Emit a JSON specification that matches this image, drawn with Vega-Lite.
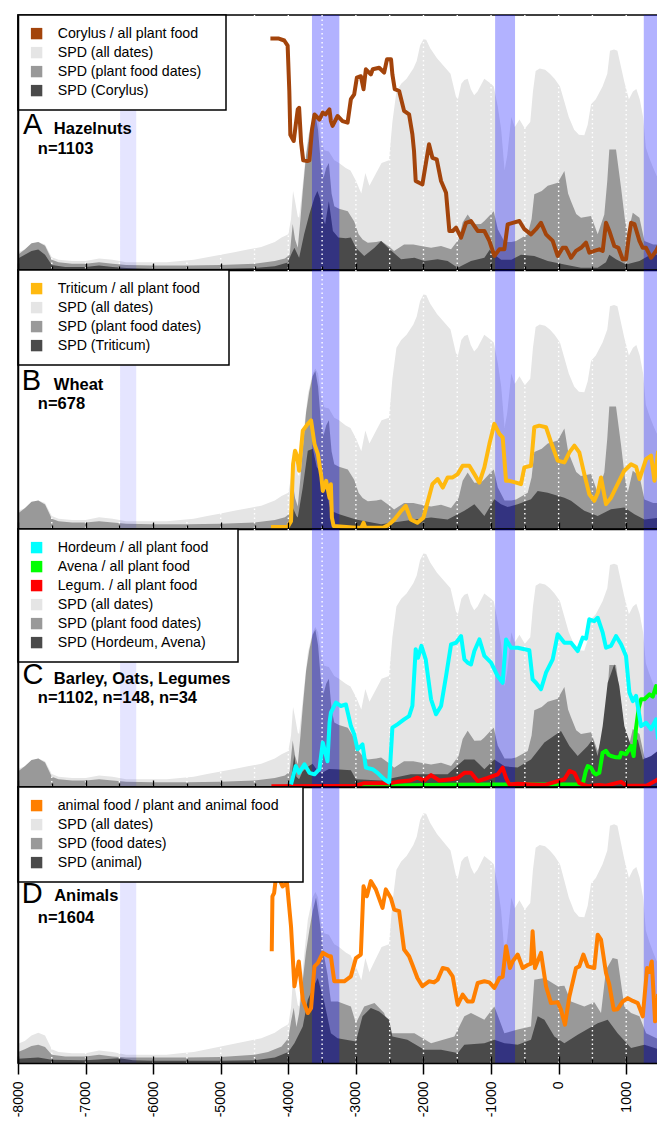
{
"$schema":"https://vega.github.io/schema/vega-lite/v6.json",
"background":"white",
"padding":{"left":10,"top":13,"right":0,"bottom":0},
"spacing":0,
"bounds":"flush",
"config":{"view":{"stroke":"black","strokeWidth":1.5},"font":"Liberation Sans","legend":{"strokeWidth":1.5}},
"resolve":{"scale":{"color":"independent"},"legend":{"color":"independent"}},
"datasets":{
"all":[{"x":-8000,"y":7},{"x":-7900,"y":8},{"x":-7800,"y":10},{"x":-7700,"y":11},{"x":-7600,"y":10},{"x":-7500,"y":5},{"x":-7400,"y":4},{"x":-7200,"y":3.5},{"x":-7000,"y":3.5},{"x":-6800,"y":4.5},{"x":-6600,"y":4},{"x":-6400,"y":3},{"x":-6200,"y":3},{"x":-6000,"y":3},{"x":-5800,"y":3},{"x":-5600,"y":3.5},{"x":-5400,"y":4},{"x":-5200,"y":5},{"x":-5000,"y":6},{"x":-4800,"y":7},{"x":-4600,"y":8},{"x":-4400,"y":9},{"x":-4200,"y":11},{"x":-4100,"y":12.7},{"x":-4000,"y":14},{"x":-3960,"y":20},{"x":-3930,"y":31},{"x":-3900,"y":27},{"x":-3860,"y":21},{"x":-3840,"y":20.5},{"x":-3800,"y":30},{"x":-3766,"y":39},{"x":-3711,"y":52},{"x":-3640,"y":60},{"x":-3600,"y":62},{"x":-3560,"y":60},{"x":-3520,"y":52},{"x":-3470,"y":47},{"x":-3400,"y":46.5},{"x":-3320,"y":43},{"x":-3250,"y":42},{"x":-3150,"y":40},{"x":-3080,"y":39},{"x":-3000,"y":35},{"x":-2920,"y":30},{"x":-2860,"y":38},{"x":-2800,"y":33},{"x":-2700,"y":38},{"x":-2620,"y":42},{"x":-2510,"y":43},{"x":-2460,"y":58},{"x":-2400,"y":70},{"x":-2330,"y":73},{"x":-2250,"y":75},{"x":-2150,"y":79},{"x":-2100,"y":82},{"x":-2050,"y":88},{"x":-2000,"y":90.5},{"x":-1960,"y":90.3},{"x":-1900,"y":87},{"x":-1800,"y":83},{"x":-1700,"y":80},{"x":-1600,"y":77},{"x":-1520,"y":68},{"x":-1490,"y":67},{"x":-1440,"y":73},{"x":-1395,"y":74.5},{"x":-1346,"y":75},{"x":-1300,"y":71},{"x":-1250,"y":68.5},{"x":-1200,"y":70},{"x":-1100,"y":75},{"x":-1000,"y":73},{"x":-960,"y":72},{"x":-900,"y":64},{"x":-850,"y":55},{"x":-800,"y":39},{"x":-760,"y":45},{"x":-700,"y":60},{"x":-650,"y":56},{"x":-580,"y":59},{"x":-500,"y":55.5},{"x":-420,"y":58},{"x":-380,"y":70},{"x":-340,"y":78},{"x":-280,"y":79},{"x":-200,"y":78.5},{"x":-130,"y":77},{"x":-60,"y":75},{"x":20,"y":72},{"x":85,"y":66},{"x":150,"y":60},{"x":230,"y":55},{"x":300,"y":53},{"x":380,"y":52.8},{"x":430,"y":57},{"x":480,"y":65},{"x":550,"y":67},{"x":650,"y":72},{"x":720,"y":77},{"x":760,"y":86},{"x":820,"y":86.5},{"x":870,"y":86},{"x":920,"y":80},{"x":970,"y":74},{"x":1040,"y":67},{"x":1100,"y":70},{"x":1150,"y":71},{"x":1200,"y":67},{"x":1250,"y":60},{"x":1290,"y":48},{"x":1340,"y":44},{"x":1400,"y":40},{"x":1450,"y":37},{"x":1500,"y":35}],
"plant":[{"x":-8000,"y":6},{"x":-7900,"y":8},{"x":-7800,"y":10.5},{"x":-7700,"y":11},{"x":-7600,"y":9.5},{"x":-7500,"y":4},{"x":-7400,"y":3},{"x":-7200,"y":2.5},{"x":-7000,"y":2.5},{"x":-6800,"y":3},{"x":-6600,"y":2.5},{"x":-6400,"y":2},{"x":-6000,"y":1.8},{"x":-5500,"y":1.8},{"x":-5000,"y":2},{"x":-4500,"y":2.5},{"x":-4200,"y":3.5},{"x":-4050,"y":4.5},{"x":-3980,"y":6},{"x":-3935,"y":18},{"x":-3900,"y":12},{"x":-3860,"y":8.7},{"x":-3820,"y":20},{"x":-3786,"y":31},{"x":-3737,"y":45},{"x":-3690,"y":53},{"x":-3640,"y":59},{"x":-3600,"y":61},{"x":-3560,"y":55},{"x":-3520,"y":42},{"x":-3480,"y":36},{"x":-3440,"y":40},{"x":-3400,"y":42},{"x":-3360,"y":30},{"x":-3320,"y":25},{"x":-3250,"y":24},{"x":-3120,"y":23},{"x":-3025,"y":19},{"x":-2960,"y":14},{"x":-2900,"y":12},{"x":-2824,"y":10.7},{"x":-2700,"y":11},{"x":-2627,"y":11.4},{"x":-2500,"y":9},{"x":-2435,"y":7.5},{"x":-2287,"y":10},{"x":-2150,"y":10},{"x":-2036,"y":9.4},{"x":-1888,"y":8.7},{"x":-1740,"y":9.4},{"x":-1592,"y":8.1},{"x":-1480,"y":12},{"x":-1420,"y":18.6},{"x":-1346,"y":21.8},{"x":-1247,"y":17.9},{"x":-1150,"y":18},{"x":-1099,"y":19.2},{"x":-1000,"y":22},{"x":-960,"y":23},{"x":-900,"y":16},{"x":-800,"y":11},{"x":-700,"y":11},{"x":-630,"y":11.4},{"x":-457,"y":14},{"x":-400,"y":20},{"x":-360,"y":29.7},{"x":-250,"y":31},{"x":-161,"y":33},{"x":-13,"y":34.2},{"x":85,"y":38.8},{"x":140,"y":30},{"x":183,"y":27},{"x":260,"y":22},{"x":331,"y":20.5},{"x":479,"y":21.2},{"x":578,"y":14},{"x":676,"y":21.8},{"x":720,"y":35},{"x":750,"y":47.3},{"x":849,"y":47.3},{"x":924,"y":32.3},{"x":980,"y":20},{"x":1023,"y":14},{"x":1097,"y":22.5},{"x":1196,"y":20.5},{"x":1270,"y":11.4},{"x":1400,"y":10},{"x":1500,"y":10}],
"food":[{"x":-8000,"y":4},{"x":-7900,"y":5},{"x":-7800,"y":6.2},{"x":-7700,"y":6.6},{"x":-7600,"y":5.8},{"x":-7500,"y":3},{"x":-7300,"y":2.4},{"x":-7000,"y":2.4},{"x":-6800,"y":3},{"x":-6600,"y":2.4},{"x":-6400,"y":2},{"x":-6000,"y":2},{"x":-5500,"y":2},{"x":-5000,"y":2.2},{"x":-4500,"y":3},{"x":-4300,"y":4},{"x":-4100,"y":6},{"x":-4000,"y":9},{"x":-3960,"y":15},{"x":-3920,"y":20},{"x":-3880,"y":13},{"x":-3840,"y":18},{"x":-3786,"y":30},{"x":-3740,"y":40},{"x":-3690,"y":48},{"x":-3640,"y":55},{"x":-3590,"y":60},{"x":-3540,"y":52},{"x":-3480,"y":40},{"x":-3420,"y":32},{"x":-3370,"y":22.3},{"x":-3271,"y":22.3},{"x":-3074,"y":20.5},{"x":-3000,"y":14.4},{"x":-2877,"y":20.5},{"x":-2725,"y":21.7},{"x":-2582,"y":18.1},{"x":-2483,"y":10.8},{"x":-2134,"y":10.8},{"x":-1888,"y":7.2},{"x":-1543,"y":9.6},{"x":-1395,"y":16.9},{"x":-1297,"y":18.1},{"x":-1099,"y":15.7},{"x":-951,"y":20.5},{"x":-803,"y":10.8},{"x":-606,"y":12.1},{"x":-409,"y":13.2},{"x":-360,"y":30.2},{"x":-211,"y":30.8},{"x":-14,"y":27.8},{"x":85,"y":28},{"x":183,"y":22.3},{"x":380,"y":20.5},{"x":528,"y":22},{"x":627,"y":18.1},{"x":701,"y":33.8},{"x":800,"y":38},{"x":873,"y":37.6},{"x":972,"y":20.5},{"x":1072,"y":18.1},{"x":1196,"y":16.9},{"x":1294,"y":10.8},{"x":1500,"y":8.4}],
"cory":[{"x":-8000,"y":4.5},{"x":-7900,"y":6},{"x":-7800,"y":7.5},{"x":-7700,"y":8},{"x":-7600,"y":6},{"x":-7500,"y":2},{"x":-7300,"y":1.2},{"x":-7000,"y":1.2},{"x":-6800,"y":1.8},{"x":-6600,"y":1.2},{"x":-6400,"y":0.8},{"x":-6000,"y":0.5},{"x":-5000,"y":0.5},{"x":-4500,"y":0.8},{"x":-4200,"y":1.5},{"x":-4008,"y":2.9},{"x":-3960,"y":6},{"x":-3910,"y":8.7},{"x":-3840,"y":4.8},{"x":-3766,"y":14},{"x":-3690,"y":21.8},{"x":-3613,"y":28.4},{"x":-3570,"y":31},{"x":-3530,"y":28},{"x":-3490,"y":20.5},{"x":-3455,"y":17.9},{"x":-3400,"y":27},{"x":-3340,"y":15.3},{"x":-3260,"y":12.7},{"x":-3150,"y":12.5},{"x":-3074,"y":12.7},{"x":-3000,"y":8.7},{"x":-2877,"y":5.5},{"x":-2725,"y":8.7},{"x":-2627,"y":11.4},{"x":-2500,"y":8.1},{"x":-2331,"y":4.2},{"x":-2134,"y":4.8},{"x":-1987,"y":3.5},{"x":-1790,"y":4.2},{"x":-1642,"y":3.5},{"x":-1494,"y":0.9},{"x":-1297,"y":3.5},{"x":-1099,"y":4.8},{"x":-1000,"y":8.7},{"x":-950,"y":6},{"x":-850,"y":4},{"x":-700,"y":4},{"x":-557,"y":6},{"x":-360,"y":5.5},{"x":-161,"y":3.5},{"x":85,"y":2.2},{"x":331,"y":0.9},{"x":578,"y":0.9},{"x":700,"y":3},{"x":750,"y":6},{"x":849,"y":4.2},{"x":997,"y":2.2},{"x":1196,"y":3.5},{"x":1358,"y":6},{"x":1500,"y":6}],
"trit":[{"x":-4000,"y":0},{"x":-3990,"y":0.5},{"x":-3934,"y":8.3},{"x":-3880,"y":5},{"x":-3860,"y":4.4},{"x":-3786,"y":16},{"x":-3712,"y":30.2},{"x":-3637,"y":31},{"x":-3580,"y":24},{"x":-3530,"y":22},{"x":-3480,"y":15},{"x":-3440,"y":18},{"x":-3400,"y":10},{"x":-3370,"y":7},{"x":-3247,"y":5.7},{"x":-3000,"y":3.7},{"x":-2627,"y":1.8},{"x":-2134,"y":3.7},{"x":-1888,"y":4.4},{"x":-1642,"y":3.7},{"x":-1395,"y":7},{"x":-1247,"y":9.6},{"x":-1099,"y":5},{"x":-951,"y":11.5},{"x":-852,"y":9.6},{"x":-754,"y":8.5},{"x":-606,"y":9.6},{"x":-409,"y":11.5},{"x":-310,"y":14.7},{"x":-161,"y":14},{"x":85,"y":12.1},{"x":183,"y":10.9},{"x":380,"y":7},{"x":578,"y":5},{"x":775,"y":7.6},{"x":972,"y":8.3},{"x":1122,"y":5.7},{"x":1270,"y":3.7},{"x":1500,"y":4.4}],
"hord":[{"x":-4000,"y":0},{"x":-3960,"y":3},{"x":-3910,"y":12.5},{"x":-3880,"y":4},{"x":-3840,"y":3},{"x":-3790,"y":6},{"x":-3700,"y":8},{"x":-3640,"y":9},{"x":-3560,"y":6},{"x":-3500,"y":5.5},{"x":-3400,"y":7},{"x":-3300,"y":6.9},{"x":-3074,"y":6.5},{"x":-3000,"y":3},{"x":-2627,"y":2.5},{"x":-2188,"y":4.9},{"x":-1888,"y":4.9},{"x":-1642,"y":4.9},{"x":-1395,"y":10.7},{"x":-1247,"y":10.7},{"x":-1099,"y":6.9},{"x":-951,"y":10.7},{"x":-800,"y":8},{"x":-606,"y":7.6},{"x":-409,"y":10.7},{"x":-211,"y":17.2},{"x":35,"y":21.7},{"x":159,"y":15.9},{"x":282,"y":12},{"x":430,"y":15.9},{"x":504,"y":18.5},{"x":578,"y":12},{"x":652,"y":23.6},{"x":726,"y":40.4},{"x":824,"y":47.6},{"x":898,"y":39.1},{"x":972,"y":23.6},{"x":1072,"y":15.9},{"x":1171,"y":18.5},{"x":1245,"y":10.7},{"x":1368,"y":12},{"x":1500,"y":14.6}],
"anim":[{"x":-8000,"y":1.5},{"x":-7700,"y":2},{"x":-7500,"y":1.2},{"x":-7000,"y":1},{"x":-6500,"y":1.7},{"x":-6300,"y":1},{"x":-6000,"y":0.8},{"x":-5000,"y":0.8},{"x":-4500,"y":1},{"x":-4200,"y":2},{"x":-4000,"y":4},{"x":-3910,"y":7.2},{"x":-3786,"y":13.2},{"x":-3712,"y":22.9},{"x":-3620,"y":28},{"x":-3564,"y":30.8},{"x":-3465,"y":21.7},{"x":-3370,"y":10.8},{"x":-3271,"y":9},{"x":-3000,"y":7.8},{"x":-2902,"y":16.9},{"x":-2779,"y":19.9},{"x":-2655,"y":18.7},{"x":-2508,"y":15.7},{"x":-2460,"y":9.6},{"x":-2238,"y":8.4},{"x":-1987,"y":4.8},{"x":-1740,"y":4.8},{"x":-1494,"y":3.6},{"x":-1395,"y":6.6},{"x":-1099,"y":7.2},{"x":-951,"y":8.4},{"x":-800,"y":7.2},{"x":-606,"y":6.6},{"x":-409,"y":8.4},{"x":-310,"y":16.9},{"x":-211,"y":15.7},{"x":-63,"y":9.6},{"x":85,"y":7.2},{"x":282,"y":10.2},{"x":578,"y":14.4},{"x":726,"y":15.7},{"x":873,"y":10.8},{"x":1072,"y":5.4},{"x":1270,"y":6.6},{"x":1500,"y":4.8}],
"lCory":[{"x":-4265,"y":90.8},{"x":-4150,"y":90.8},{"x":-4060,"y":90},{"x":-4010,"y":88},{"x":-3985,"y":70},{"x":-3970,"y":53},{"x":-3920,"y":50.6},{"x":-3890,"y":57},{"x":-3860,"y":63},{"x":-3840,"y":63.6},{"x":-3811,"y":50},{"x":-3780,"y":43},{"x":-3720,"y":42.7},{"x":-3688,"y":43},{"x":-3650,"y":55},{"x":-3613,"y":61},{"x":-3590,"y":60.4},{"x":-3540,"y":59},{"x":-3490,"y":61.7},{"x":-3450,"y":61},{"x":-3392,"y":63},{"x":-3370,"y":58.4},{"x":-3345,"y":56.5},{"x":-3271,"y":60.4},{"x":-3198,"y":58.4},{"x":-3123,"y":57.8},{"x":-3074,"y":67},{"x":-3025,"y":68.9},{"x":-2986,"y":75.4},{"x":-2927,"y":76},{"x":-2887,"y":70.9},{"x":-2852,"y":78.7},{"x":-2779,"y":76.7},{"x":-2750,"y":78.7},{"x":-2655,"y":79.3},{"x":-2582,"y":77.4},{"x":-2540,"y":82.6},{"x":-2480,"y":82.6},{"x":-2460,"y":76.7},{"x":-2425,"y":70.9},{"x":-2360,"y":70.2},{"x":-2287,"y":62.4},{"x":-2213,"y":61},{"x":-2164,"y":53.2},{"x":-2140,"y":46.7},{"x":-2115,"y":34.9},{"x":-2065,"y":34.2},{"x":-2016,"y":33.6},{"x":-1967,"y":41.4},{"x":-1918,"y":49.3},{"x":-1868,"y":44},{"x":-1804,"y":43.4},{"x":-1740,"y":34.9},{"x":-1666,"y":30.3},{"x":-1617,"y":15.3},{"x":-1568,"y":15.3},{"x":-1518,"y":16.6},{"x":-1444,"y":12.7},{"x":-1371,"y":18.5},{"x":-1297,"y":19.2},{"x":-1198,"y":15.3},{"x":-1099,"y":15.3},{"x":-1025,"y":11.4},{"x":-951,"y":5.5},{"x":-877,"y":8.1},{"x":-803,"y":8.1},{"x":-754,"y":17.9},{"x":-680,"y":18.5},{"x":-581,"y":19.2},{"x":-507,"y":16},{"x":-409,"y":14},{"x":-335,"y":16},{"x":-261,"y":18.5},{"x":-187,"y":14},{"x":-88,"y":11.4},{"x":-14,"y":5.5},{"x":60,"y":8.7},{"x":109,"y":8.7},{"x":183,"y":4.8},{"x":257,"y":7.5},{"x":331,"y":8.7},{"x":405,"y":10.7},{"x":454,"y":6.8},{"x":528,"y":7.5},{"x":602,"y":8.1},{"x":652,"y":7.5},{"x":701,"y":18.5},{"x":750,"y":15.3},{"x":824,"y":9.4},{"x":884,"y":8.7},{"x":948,"y":4.2},{"x":997,"y":4.2},{"x":1037,"y":12.7},{"x":1072,"y":18.5},{"x":1122,"y":18},{"x":1196,"y":11.4},{"x":1245,"y":8.7},{"x":1294,"y":8.7},{"x":1368,"y":4.8},{"x":1442,"y":7.5},{"x":1480,"y":9.4}],
"lTrit":[{"x":-4257,"y":0.8},{"x":-4010,"y":0.8},{"x":-3960,"y":3},{"x":-3930,"y":25},{"x":-3900,"y":30.2},{"x":-3870,"y":28},{"x":-3840,"y":22.5},{"x":-3786,"y":38},{"x":-3712,"y":40.6},{"x":-3663,"y":41.9},{"x":-3613,"y":32.8},{"x":-3563,"y":29},{"x":-3510,"y":20},{"x":-3490,"y":14.7},{"x":-3440,"y":18.6},{"x":-3390,"y":12},{"x":-3370,"y":17.3},{"x":-3355,"y":4.4},{"x":-3330,"y":1.2},{"x":-3000,"y":0.5},{"x":-2920,"y":0.5},{"x":-2887,"y":2.4},{"x":-2860,"y":0.5},{"x":-2600,"y":0.5},{"x":-2520,"y":1.5},{"x":-2430,"y":3.7},{"x":-2330,"y":7},{"x":-2262,"y":8.9},{"x":-2188,"y":3.7},{"x":-2090,"y":2.4},{"x":-2000,"y":4.4},{"x":-1947,"y":9.6},{"x":-1868,"y":17.3},{"x":-1790,"y":19.3},{"x":-1715,"y":16},{"x":-1642,"y":19.9},{"x":-1568,"y":19.9},{"x":-1494,"y":21.2},{"x":-1420,"y":24.4},{"x":-1322,"y":24.4},{"x":-1247,"y":21.2},{"x":-1173,"y":17.9},{"x":-1099,"y":23.8},{"x":-1025,"y":32.8},{"x":-951,"y":40.6},{"x":-877,"y":36.7},{"x":-828,"y":35.4},{"x":-778,"y":18.6},{"x":-730,"y":18.6},{"x":-630,"y":17.9},{"x":-557,"y":17.3},{"x":-507,"y":23.8},{"x":-409,"y":24.4},{"x":-360,"y":39.3},{"x":-286,"y":39.9},{"x":-187,"y":39.3},{"x":-113,"y":33.5},{"x":-14,"y":26.4},{"x":85,"y":25.7},{"x":159,"y":29.6},{"x":233,"y":32.2},{"x":306,"y":29.6},{"x":380,"y":21.2},{"x":454,"y":13.4},{"x":528,"y":10.9},{"x":580,"y":14},{"x":627,"y":19.9},{"x":701,"y":9.6},{"x":775,"y":12.1},{"x":873,"y":17.3},{"x":972,"y":22.5},{"x":1072,"y":25},{"x":1146,"y":24},{"x":1196,"y":19.3},{"x":1294,"y":27},{"x":1368,"y":28.3},{"x":1418,"y":18.6},{"x":1472,"y":30.2}],
"lHord":[{"x":-3960,"y":1},{"x":-3890,"y":8.1},{"x":-3840,"y":5.5},{"x":-3762,"y":8.8},{"x":-3688,"y":5.5},{"x":-3613,"y":4.9},{"x":-3540,"y":6.9},{"x":-3490,"y":17.2},{"x":-3440,"y":12},{"x":-3420,"y":10},{"x":-3390,"y":25},{"x":-3370,"y":28.8},{"x":-3296,"y":32.7},{"x":-3222,"y":31.4},{"x":-3148,"y":32},{"x":-3074,"y":23.6},{"x":-3025,"y":20.4},{"x":-2976,"y":14.6},{"x":-2902,"y":16.5},{"x":-2852,"y":7.5},{"x":-2754,"y":6.9},{"x":-2680,"y":5.5},{"x":-2582,"y":3},{"x":-2508,"y":1.7},{"x":-2460,"y":23},{"x":-2385,"y":24.3},{"x":-2287,"y":26.2},{"x":-2213,"y":27.5},{"x":-2164,"y":31.4},{"x":-2115,"y":53.4},{"x":-2080,"y":50.1},{"x":-2030,"y":54.7},{"x":-1967,"y":49.5},{"x":-1888,"y":34},{"x":-1814,"y":28.2},{"x":-1740,"y":31.4},{"x":-1666,"y":43},{"x":-1592,"y":55.3},{"x":-1518,"y":55.9},{"x":-1444,"y":58.5},{"x":-1395,"y":49.5},{"x":-1346,"y":48.2},{"x":-1297,"y":47.5},{"x":-1247,"y":52.7},{"x":-1173,"y":57.2},{"x":-1099,"y":50.8},{"x":-1000,"y":48.2},{"x":-902,"y":43},{"x":-828,"y":40.4},{"x":-778,"y":57.2},{"x":-705,"y":54},{"x":-606,"y":54},{"x":-507,"y":53.4},{"x":-434,"y":53},{"x":-385,"y":41.7},{"x":-335,"y":40.4},{"x":-261,"y":37.9},{"x":-187,"y":44.3},{"x":-88,"y":49.5},{"x":-14,"y":59.2},{"x":85,"y":55.9},{"x":183,"y":55.9},{"x":282,"y":52.7},{"x":356,"y":57.9},{"x":405,"y":57.5},{"x":454,"y":65},{"x":528,"y":64.3},{"x":578,"y":65.6},{"x":652,"y":59.8},{"x":701,"y":54},{"x":775,"y":54.7},{"x":849,"y":58.5},{"x":924,"y":55.3},{"x":997,"y":50.8},{"x":1047,"y":36.6},{"x":1097,"y":33.3},{"x":1146,"y":35.3},{"x":1220,"y":23.6},{"x":1294,"y":24.9},{"x":1368,"y":22.4},{"x":1442,"y":26.2},{"x":1472,"y":18.5}],
"lAven":[{"x":-3400,"y":0.3},{"x":-3000,"y":0.3},{"x":-2000,"y":0.8},{"x":-1000,"y":1},{"x":0,"y":1},{"x":300,"y":1},{"x":356,"y":1},{"x":400,"y":6},{"x":430,"y":8.1},{"x":479,"y":7.5},{"x":521,"y":5.5},{"x":553,"y":4.9},{"x":602,"y":5.5},{"x":651,"y":13.3},{"x":701,"y":14},{"x":740,"y":12.5},{"x":775,"y":12},{"x":849,"y":11.5},{"x":902,"y":11.4},{"x":924,"y":13.3},{"x":997,"y":12.7},{"x":1072,"y":15.9},{"x":1110,"y":12},{"x":1146,"y":23},{"x":1186,"y":30.7},{"x":1220,"y":34},{"x":1270,"y":34},{"x":1344,"y":35.9},{"x":1393,"y":35},{"x":1442,"y":39.1},{"x":1472,"y":36}],
"lLeg":[{"x":-4250,"y":0.3},{"x":-3000,"y":0.5},{"x":-2877,"y":1.5},{"x":-2483,"y":1.5},{"x":-2385,"y":2},{"x":-2200,"y":2.5},{"x":-2090,"y":3.6},{"x":-1990,"y":2.5},{"x":-1888,"y":4.6},{"x":-1765,"y":2.5},{"x":-1592,"y":3},{"x":-1494,"y":3.5},{"x":-1395,"y":5.5},{"x":-1297,"y":5.5},{"x":-1198,"y":2.3},{"x":-1050,"y":3.5},{"x":-902,"y":4.9},{"x":-828,"y":7.5},{"x":-778,"y":3.5},{"x":-730,"y":1},{"x":-606,"y":1.3},{"x":-409,"y":1},{"x":-200,"y":0.8},{"x":85,"y":3},{"x":159,"y":6.2},{"x":233,"y":5.5},{"x":306,"y":1.5},{"x":430,"y":0.3},{"x":600,"y":0.8},{"x":700,"y":0.5},{"x":924,"y":2},{"x":1000,"y":0.5},{"x":1300,"y":0.5},{"x":1442,"y":2.5},{"x":1472,"y":3}],
"lAnim":[{"x":-4245,"y":40.5},{"x":-4235,"y":60.4},{"x":-4210,"y":61.6},{"x":-4170,"y":70},{"x":-4120,"y":66},{"x":-4085,"y":64},{"x":-4020,"y":65.3},{"x":-3960,"y":49.5},{"x":-3910,"y":27.8},{"x":-3845,"y":36.8},{"x":-3786,"y":22.9},{"x":-3712,"y":18.1},{"x":-3663,"y":19.9},{"x":-3613,"y":35},{"x":-3564,"y":36.2},{"x":-3490,"y":39.9},{"x":-3400,"y":38.7},{"x":-3370,"y":38.7},{"x":-3320,"y":29.6},{"x":-3172,"y":29.6},{"x":-3074,"y":31.4},{"x":-3000,"y":38},{"x":-2927,"y":39.3},{"x":-2887,"y":64},{"x":-2838,"y":60.4},{"x":-2779,"y":65.9},{"x":-2705,"y":62.9},{"x":-2606,"y":56.2},{"x":-2557,"y":62.9},{"x":-2483,"y":59.8},{"x":-2434,"y":55.6},{"x":-2360,"y":55},{"x":-2287,"y":41.1},{"x":-2213,"y":38.7},{"x":-2164,"y":35.6},{"x":-2090,"y":30.8},{"x":-2016,"y":27.8},{"x":-1918,"y":29.6},{"x":-1844,"y":29.2},{"x":-1790,"y":30.2},{"x":-1715,"y":34.4},{"x":-1642,"y":34},{"x":-1568,"y":31.4},{"x":-1494,"y":21.1},{"x":-1420,"y":24.8},{"x":-1346,"y":22.3},{"x":-1272,"y":22.3},{"x":-1198,"y":29},{"x":-1099,"y":29.6},{"x":-1025,"y":29.2},{"x":-951,"y":27.2},{"x":-877,"y":30.8},{"x":-828,"y":31.2},{"x":-778,"y":42.3},{"x":-720,"y":34.4},{"x":-680,"y":36.8},{"x":-606,"y":39.3},{"x":-532,"y":34.4},{"x":-458,"y":35.5},{"x":-409,"y":36},{"x":-385,"y":47.7},{"x":-350,"y":34.4},{"x":-261,"y":39.9},{"x":-187,"y":27.8},{"x":-113,"y":21.7},{"x":-14,"y":22},{"x":35,"y":19.3},{"x":94,"y":13.9},{"x":159,"y":24.1},{"x":257,"y":34.4},{"x":306,"y":35},{"x":366,"y":39.3},{"x":430,"y":35},{"x":528,"y":34.4},{"x":578,"y":46.5},{"x":627,"y":44.7},{"x":701,"y":32.6},{"x":750,"y":28.4},{"x":815,"y":19.3},{"x":873,"y":19.5},{"x":948,"y":22.3},{"x":1023,"y":23.5},{"x":1097,"y":22.5},{"x":1171,"y":21.7},{"x":1245,"y":16.9},{"x":1309,"y":34.4},{"x":1344,"y":33},{"x":1378,"y":36.8},{"x":1427,"y":15.1},{"x":1472,"y":25}],
"bands":[{"x0":-3650,"x1":-3245},{"x0":-940,"x1":-645},{"x0":1260,"x1":1500}],
"faint":[{"x0":-6490,"x1":-6250}],
"grid":[{"x":-7500},{"x":-7000},{"x":-6500},{"x":-6000},{"x":-5500},{"x":-5000},{"x":-4500},{"x":-4000},{"x":-3500},{"x":-3000},{"x":-2500},{"x":-2000},{"x":-1500},{"x":-1000},{"x":-500},{"x":0},{"x":500},{"x":1000}]
},
"vconcat":[
{"width":642,"height":255,
"resolve":{"axis":{"x":"independent","y":"independent"}},
"layer":[
{"data":{"name":"all"},"mark":{"type":"area","clip":true,"opacity":1},"encoding":{
"x":{"field":"x","type":"quantitative","scale":{"domain":[-8000,1500],"nice":false,"zero":false},"axis":{"orient":"bottom","values":[-8000,-7000,-6000,-5000,-4000,-3000,-2000,-1000,0,1000],"tickSize":-7,"tickWidth":1.3,"tickColor":"black","labels":false,"domain":true,"domainColor":"black","domainWidth":1.5,"grid":false,"title":null,"zindex":2}},
"y":{"field":"y","type":"quantitative","scale":{"domain":[0,100],"nice":false,"zero":true},"axis":{"orient":"left","domain":true,"domainColor":"black","domainWidth":1.5,"ticks":false,"labels":false,"grid":false,"title":null,"zindex":2}},
"color":{"datum":"SPD (all dates)","type":"nominal","scale":{"domain":["Corylus / all plant food","SPD (all dates)","SPD (plant food dates)","SPD (Corylus)"],"range":["#a3440b","#e5e5e5","#999999","#4a4a4a"]},
"legend":{"orient":"top-left","offset":0,"title":" ","titleOrient":"right","titlePadding":12.7,"padding":11.5,"symbolType":"square","symbolSize":130,"symbolStrokeWidth":0,"labelFontSize":14.2,"labelFont":"Liberation Sans","labelColor":"black","labelLimit":400,"labelOffset":14,"rowPadding":4,"fillColor":"white","strokeColor":"black"}}}},
{"data":{"name":"plant"},"mark":{"type":"area","clip":true,"opacity":1},"encoding":{
"x":{"field":"x","type":"quantitative","axis":{"orient":"bottom","values":[-7500,-6500,-5500,-4500,-3500,-2500,-1500,-500,500],"tickSize":-4,"tickWidth":1.3,"tickColor":"black","labels":false,"domain":false,"grid":false,"title":null,"zindex":2}},
"y":{"field":"y","type":"quantitative","axis":null},
"color":{"datum":"SPD (plant food dates)","type":"nominal"}}},
{"data":{"name":"cory"},"mark":{"type":"area","clip":true,"opacity":1},"encoding":{"x":{"field":"x","type":"quantitative","axis":null},"y":{"field":"y","type":"quantitative","axis":null},"color":{"datum":"SPD (Corylus)","type":"nominal"}}},
{"data":{"name":"faint"},"mark":{"type":"rect","color":"#0000ff","opacity":0.1},"encoding":{"x":{"field":"x0","type":"quantitative","axis":null},"x2":{"field":"x1"}}},
{"data":{"name":"bands"},"mark":{"type":"rect","color":"#0000ff","opacity":0.3},"encoding":{"x":{"field":"x0","type":"quantitative","axis":null},"x2":{"field":"x1"}}},
{"data":{"name":"grid"},"mark":{"type":"rule","color":"white","strokeDash":[1.5,3],"strokeWidth":1.4},"encoding":{"x":{"field":"x","type":"quantitative","axis":null}}},
{"data":{"name":"lCory"},"mark":{"type":"line","strokeWidth":4,"clip":true,"strokeJoin":"round"},"encoding":{"x":{"field":"x","type":"quantitative","axis":null},"y":{"field":"y","type":"quantitative","axis":null},"color":{"datum":"Corylus / all plant food","type":"nominal","legend":null}}},
{"data":{"values":[{"x":-7925,"y":53.3,"t":"A"}]},"mark":{"type":"text","fontSize":29,"align":"left","baseline":"alphabetic","color":"black","font":"Liberation Sans"},"encoding":{"x":{"field":"x","type":"quantitative","axis":null},"y":{"field":"y","type":"quantitative","axis":null},"text":{"field":"t"}}},
{"data":{"values":[{"x":-7470,"y":53.4,"t":"Hazelnuts"},{"x":-7706,"y":45.4,"t":"n=1103"}]},"mark":{"type":"text","fontSize":16.5,"fontWeight":"bold","align":"left","baseline":"alphabetic","color":"black","font":"Liberation Sans"},"encoding":{"x":{"field":"x","type":"quantitative","axis":null},"y":{"field":"y","type":"quantitative","axis":null},"text":{"field":"t"}}}
]},
{"width":642,"height":259,
"resolve":{"axis":{"x":"independent","y":"independent"}},
"layer":[
{"data":{"name":"all"},"mark":{"type":"area","clip":true,"opacity":1},"encoding":{
"x":{"field":"x","type":"quantitative","scale":{"domain":[-8000,1500],"nice":false,"zero":false},"axis":{"orient":"bottom","values":[-8000,-7000,-6000,-5000,-4000,-3000,-2000,-1000,0,1000],"tickSize":-7,"tickWidth":1.3,"tickColor":"black","labels":false,"domain":true,"domainColor":"black","domainWidth":1.5,"grid":false,"title":null,"zindex":2}},
"y":{"field":"y","type":"quantitative","scale":{"domain":[0,100],"nice":false,"zero":true},"axis":{"orient":"left","domain":true,"domainColor":"black","domainWidth":1.5,"ticks":false,"labels":false,"grid":false,"title":null,"zindex":2}},
"color":{"datum":"SPD (all dates)","type":"nominal","scale":{"domain":["Triticum / all plant food","SPD (all dates)","SPD (plant food dates)","SPD (Triticum)"],"range":["#ffb90f","#e5e5e5","#999999","#4a4a4a"]},
"legend":{"orient":"top-left","offset":0,"title":" ","titleOrient":"right","titlePadding":15.7,"padding":11.5,"symbolType":"square","symbolSize":130,"symbolStrokeWidth":0,"labelFontSize":14.2,"labelFont":"Liberation Sans","labelColor":"black","labelLimit":400,"labelOffset":14,"rowPadding":4,"fillColor":"white","strokeColor":"black"}}}},
{"data":{"name":"plant"},"mark":{"type":"area","clip":true,"opacity":1},"encoding":{
"x":{"field":"x","type":"quantitative","axis":{"orient":"bottom","values":[-7500,-6500,-5500,-4500,-3500,-2500,-1500,-500,500],"tickSize":-4,"tickWidth":1.3,"tickColor":"black","labels":false,"domain":false,"grid":false,"title":null,"zindex":2}},
"y":{"field":"y","type":"quantitative","axis":null},
"color":{"datum":"SPD (plant food dates)","type":"nominal"}}},
{"data":{"name":"trit"},"mark":{"type":"area","clip":true,"opacity":1},"encoding":{"x":{"field":"x","type":"quantitative","axis":null},"y":{"field":"y","type":"quantitative","axis":null},"color":{"datum":"SPD (Triticum)","type":"nominal"}}},
{"data":{"name":"faint"},"mark":{"type":"rect","color":"#0000ff","opacity":0.1},"encoding":{"x":{"field":"x0","type":"quantitative","axis":null},"x2":{"field":"x1"}}},
{"data":{"name":"bands"},"mark":{"type":"rect","color":"#0000ff","opacity":0.3},"encoding":{"x":{"field":"x0","type":"quantitative","axis":null},"x2":{"field":"x1"}}},
{"data":{"name":"grid"},"mark":{"type":"rule","color":"white","strokeDash":[1.5,3],"strokeWidth":1.4},"encoding":{"x":{"field":"x","type":"quantitative","axis":null}}},
{"data":{"name":"lTrit"},"mark":{"type":"line","strokeWidth":4,"clip":true,"strokeJoin":"round"},"encoding":{"x":{"field":"x","type":"quantitative","axis":null},"y":{"field":"y","type":"quantitative","axis":null},"color":{"datum":"Triticum / all plant food","type":"nominal","legend":null}}},
{"data":{"values":[{"x":-7945,"y":53.7,"t":"B"}]},"mark":{"type":"text","fontSize":29,"align":"left","baseline":"alphabetic","color":"black","font":"Liberation Sans"},"encoding":{"x":{"field":"x","type":"quantitative","axis":null},"y":{"field":"y","type":"quantitative","axis":null},"text":{"field":"t"}}},
{"data":{"values":[{"x":-7470,"y":53.6,"t":"Wheat"},{"x":-7706,"y":46.2,"t":"n=678"}]},"mark":{"type":"text","fontSize":16.5,"fontWeight":"bold","align":"left","baseline":"alphabetic","color":"black","font":"Liberation Sans"},"encoding":{"x":{"field":"x","type":"quantitative","axis":null},"y":{"field":"y","type":"quantitative","axis":null},"text":{"field":"t"}}}
]},
{"width":642,"height":258,
"resolve":{"axis":{"x":"independent","y":"independent"}},
"layer":[
{"data":{"name":"all"},"mark":{"type":"area","clip":true,"opacity":1},"encoding":{
"x":{"field":"x","type":"quantitative","scale":{"domain":[-8000,1500],"nice":false,"zero":false},"axis":{"orient":"bottom","values":[-8000,-7000,-6000,-5000,-4000,-3000,-2000,-1000,0,1000],"tickSize":-7,"tickWidth":1.3,"tickColor":"black","labels":false,"domain":true,"domainColor":"black","domainWidth":1.5,"grid":false,"title":null,"zindex":2}},
"y":{"field":"y","type":"quantitative","scale":{"domain":[0,100],"nice":false,"zero":true},"axis":{"orient":"left","domain":true,"domainColor":"black","domainWidth":1.5,"ticks":false,"labels":false,"grid":false,"title":null,"zindex":2}},
"color":{"datum":"SPD (all dates)","type":"nominal","scale":{"domain":["Hordeum / all plant food","Avena / all plant food","Legum. / all plant food","SPD (all dates)","SPD (plant food dates)","SPD (Hordeum, Avena)"],"range":["#00ffff","#00ff00","#ff0000","#e5e5e5","#999999","#4a4a4a"]},
"legend":{"orient":"top-left","offset":0,"title":" ","titleOrient":"right","titlePadding":17.7,"padding":11.5,"symbolType":"square","symbolSize":130,"symbolStrokeWidth":0,"labelFontSize":14.2,"labelFont":"Liberation Sans","labelColor":"black","labelLimit":400,"labelOffset":14,"rowPadding":4,"fillColor":"white","strokeColor":"black"}}}},
{"data":{"name":"plant"},"mark":{"type":"area","clip":true,"opacity":1},"encoding":{
"x":{"field":"x","type":"quantitative","axis":{"orient":"bottom","values":[-7500,-6500,-5500,-4500,-3500,-2500,-1500,-500,500],"tickSize":-4,"tickWidth":1.3,"tickColor":"black","labels":false,"domain":false,"grid":false,"title":null,"zindex":2}},
"y":{"field":"y","type":"quantitative","axis":null},
"color":{"datum":"SPD (plant food dates)","type":"nominal"}}},
{"data":{"name":"hord"},"mark":{"type":"area","clip":true,"opacity":1},"encoding":{"x":{"field":"x","type":"quantitative","axis":null},"y":{"field":"y","type":"quantitative","axis":null},"color":{"datum":"SPD (Hordeum, Avena)","type":"nominal"}}},
{"data":{"name":"faint"},"mark":{"type":"rect","color":"#0000ff","opacity":0.1},"encoding":{"x":{"field":"x0","type":"quantitative","axis":null},"x2":{"field":"x1"}}},
{"data":{"name":"bands"},"mark":{"type":"rect","color":"#0000ff","opacity":0.3},"encoding":{"x":{"field":"x0","type":"quantitative","axis":null},"x2":{"field":"x1"}}},
{"data":{"name":"grid"},"mark":{"type":"rule","color":"white","strokeDash":[1.5,3],"strokeWidth":1.4},"encoding":{"x":{"field":"x","type":"quantitative","axis":null}}},
{"data":{"name":"lAven"},"mark":{"type":"line","strokeWidth":4,"clip":true,"strokeJoin":"round"},"encoding":{"x":{"field":"x","type":"quantitative","axis":null},"y":{"field":"y","type":"quantitative","axis":null},"color":{"datum":"Avena / all plant food","type":"nominal","legend":null}}},
{"data":{"name":"lLeg"},"mark":{"type":"line","strokeWidth":4,"clip":true,"strokeJoin":"round"},"encoding":{"x":{"field":"x","type":"quantitative","axis":null},"y":{"field":"y","type":"quantitative","axis":null},"color":{"datum":"Legum. / all plant food","type":"nominal","legend":null}}},
{"data":{"name":"lHord"},"mark":{"type":"line","strokeWidth":4,"clip":true,"strokeJoin":"round"},"encoding":{"x":{"field":"x","type":"quantitative","axis":null},"y":{"field":"y","type":"quantitative","axis":null},"color":{"datum":"Hordeum / all plant food","type":"nominal","legend":null}}},
{"data":{"values":[{"x":-7935,"y":39.8,"t":"C"}]},"mark":{"type":"text","fontSize":29,"align":"left","baseline":"alphabetic","color":"black","font":"Liberation Sans"},"encoding":{"x":{"field":"x","type":"quantitative","axis":null},"y":{"field":"y","type":"quantitative","axis":null},"text":{"field":"t"}}},
{"data":{"values":[{"x":-7470,"y":40,"t":"Barley, Oats, Legumes"},{"x":-7706,"y":32.7,"t":"n=1102, n=148, n=34"}]},"mark":{"type":"text","fontSize":16.5,"fontWeight":"bold","align":"left","baseline":"alphabetic","color":"black","font":"Liberation Sans"},"encoding":{"x":{"field":"x","type":"quantitative","axis":null},"y":{"field":"y","type":"quantitative","axis":null},"text":{"field":"t"}}}
]},
{"width":642,"height":276,
"resolve":{"axis":{"x":"independent","y":"independent"}},
"layer":[
{"data":{"name":"all"},"mark":{"type":"area","clip":true,"opacity":1},"encoding":{
"x":{"field":"x","type":"quantitative","scale":{"domain":[-8000,1500],"nice":false,"zero":false},"axis":{"orient":"bottom","values":[-8000,-7000,-6000,-5000,-4000,-3000,-2000,-1000,0,1000],"tickSize":-7,"tickWidth":1.3,"tickColor":"black","labels":false,"domain":true,"domainColor":"black","domainWidth":1.5,"grid":false,"title":null,"zindex":2}},
"y":{"field":"y","type":"quantitative","scale":{"domain":[0,100],"nice":false,"zero":true},"axis":{"orient":"left","domain":true,"domainColor":"black","domainWidth":1.5,"ticks":false,"labels":false,"grid":false,"title":null,"zindex":2}},
"color":{"datum":"SPD (all dates)","type":"nominal","scale":{"domain":["animal food / plant and animal food","SPD (all dates)","SPD (food dates)","SPD (animal)"],"range":["#ff7f00","#e5e5e5","#999999","#4a4a4a"]},
"legend":{"orient":"top-left","offset":0,"title":" ","titleOrient":"right","titlePadding":13,"padding":11.5,"symbolType":"square","symbolSize":130,"symbolStrokeWidth":0,"labelFontSize":14.2,"labelFont":"Liberation Sans","labelColor":"black","labelLimit":400,"labelOffset":14,"rowPadding":4,"fillColor":"white","strokeColor":"black"}}}},
{"data":{"name":"food"},"mark":{"type":"area","clip":true,"opacity":1},"encoding":{
"x":{"field":"x","type":"quantitative","axis":{"orient":"bottom","values":[-7500,-6500,-5500,-4500,-3500,-2500,-1500,-500,500],"tickSize":-4,"tickWidth":1.3,"tickColor":"black","labels":false,"domain":false,"grid":false,"title":null,"zindex":2}},
"y":{"field":"y","type":"quantitative","axis":null},
"color":{"datum":"SPD (food dates)","type":"nominal"}}},
{"data":{"name":"anim"},"mark":{"type":"area","clip":true,"opacity":1},"encoding":{"x":{"field":"x","type":"quantitative","axis":null},"y":{"field":"y","type":"quantitative","axis":null},"color":{"datum":"SPD (animal)","type":"nominal"}}},
{"data":{"name":"faint"},"mark":{"type":"rect","color":"#0000ff","opacity":0.1},"encoding":{"x":{"field":"x0","type":"quantitative","axis":null},"x2":{"field":"x1"}}},
{"data":{"name":"bands"},"mark":{"type":"rect","color":"#0000ff","opacity":0.3},"encoding":{"x":{"field":"x0","type":"quantitative","axis":null},"x2":{"field":"x1"}}},
{"data":{"name":"grid"},"mark":{"type":"rule","color":"white","strokeDash":[1.5,3],"strokeWidth":1.4},"encoding":{"x":{"field":"x","type":"quantitative","axis":null}}},
{"data":{"name":"lAnim"},"mark":{"type":"line","strokeWidth":4,"clip":true,"strokeJoin":"round"},"encoding":{"x":{"field":"x","type":"quantitative","axis":{"orient":"bottom","values":[-8000,-7000,-6000,-5000,-4000,-3000,-2000,-1000,0,1000],"tickSize":11,"tickWidth":1.5,"tickColor":"black","labels":true,"labelAngle":270,"labelAlign":"right","labelBaseline":"middle","labelPadding":7,"labelFontSize":14,"labelFont":"Liberation Sans","labelColor":"black","labelFlush":false,"labelOverlap":false,"labelBound":false,"labelExpr":"'' + datum.value","domain":false,"grid":false,"title":null,"zindex":2}},"y":{"field":"y","type":"quantitative","axis":null},"color":{"datum":"animal food / plant and animal food","type":"nominal","legend":null}}},
{"data":{"values":[{"x":-7945,"y":57.9,"t":"D"}]},"mark":{"type":"text","fontSize":29,"align":"left","baseline":"alphabetic","color":"black","font":"Liberation Sans"},"encoding":{"x":{"field":"x","type":"quantitative","axis":null},"y":{"field":"y","type":"quantitative","axis":null},"text":{"field":"t"}}},
{"data":{"values":[{"x":-7465,"y":58.7,"t":"Animals"},{"x":-7706,"y":50.8,"t":"n=1604"}]},"mark":{"type":"text","fontSize":16.5,"fontWeight":"bold","align":"left","baseline":"alphabetic","color":"black","font":"Liberation Sans"},"encoding":{"x":{"field":"x","type":"quantitative","axis":null},"y":{"field":"y","type":"quantitative","axis":null},"text":{"field":"t"}}}
]}
]
}
